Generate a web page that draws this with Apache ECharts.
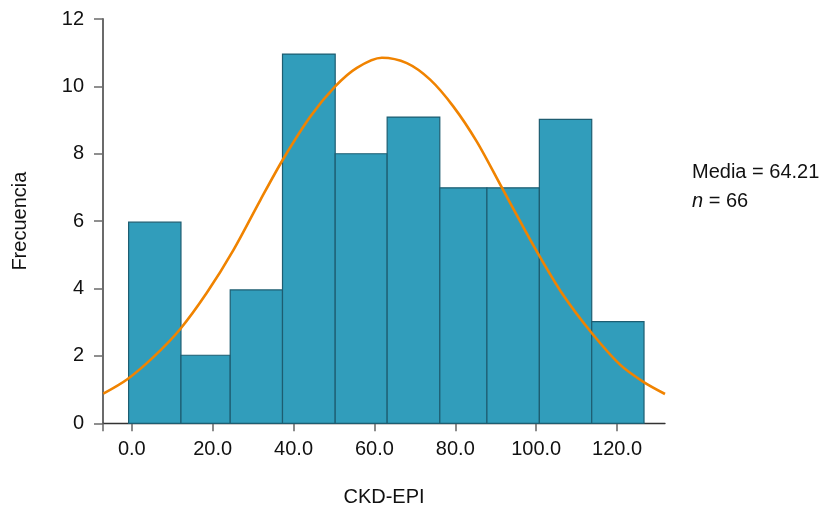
<!DOCTYPE html>
<html>
<head>
<meta charset="utf-8">
<script src="https://cdn.jsdelivr.net/npm/echarts@6/dist/echarts.min.js"></script>
<style>
html,body{margin:0;padding:0;background:#fff;}
#chart{width:824px;height:512px;}
</style>
</head>
<body>
<div id="chart"></div>
<script>
// Histogram bins (CKD-EPI) and frequencies
const binEdges = [-0.79, 12.16, 24.34, 37.27, 50.30, 63.15, 76.17, 87.82, 100.79, 113.74, 126.67];
const counts = [5.97, 2.02, 3.96, 10.96, 8.0, 9.09, 6.99, 6.99, 9.02, 3.02];
// Fitted normal curve
const curveX = [-7.04, -1.19, 5.39, 11.99, 18.59, 25.16, 31.76, 37.52, 44.12, 50.30, 55.66, 61.84, 68.02, 73.78, 79.54, 85.32, 91.50, 96.02, 100.79, 106.72, 113.74, 120.74, 126.50, 131.86];
const curveY = [0.88, 1.30, 1.97, 2.80, 3.88, 5.15, 6.62, 7.86, 9.10, 10.00, 10.55, 10.85, 10.69, 10.20, 9.40, 8.36, 7.00, 6.00, 4.97, 3.80, 2.68, 1.74, 1.23, 0.87];
const xTickLabels = [0, 20, 40, 60, 80, 100, 120];
const yTicks = [0, 2, 4, 6, 8, 10, 12];
const xAxisTitle = 'CKD-EPI';
const yAxisTitle = 'Frecuencia';
const statMean = 'Media = 64.21';
const statN = '66';

const FONT = 'Liberation Sans, Arial, Helvetica, sans-serif';
const xMin = -7.12, xMax = 131.86;

const barData = counts.map((c, i) => [binEdges[i], binEdges[i + 1], c]);
const lineData = curveX.map((x, i) => [x, curveY[i]]);

const chart = echarts.init(document.getElementById('chart'), null, {renderer: 'canvas'});
chart.setOption({
  animation: false,
  backgroundColor: '#ffffff',
  grid: {left: 103, right: 159, top: 19, bottom: 88.7, containLabel: false, outerBoundsMode: 'none'},
  xAxis: {
    type: 'value', min: xMin, max: xMax,
    splitLine: {show: false},
    axisLine: {show: true, onZero: false, lineStyle: {color: '#333333', width: 1.3}},
    axisTick: {show: true, length: 8, customValues: [xMin].concat(xTickLabels), lineStyle: {color: '#666666', width: 1.5}},
    axisLabel: {customValues: xTickLabels, formatter: v => v.toFixed(1), fontSize: 20, color: '#111111', fontFamily: FONT, margin: 16},
    name: xAxisTitle, nameLocation: 'middle', nameGap: 64,
    nameTextStyle: {fontSize: 20, color: '#111111', fontFamily: FONT}
  },
  yAxis: {
    type: 'value', min: 0, max: 12, interval: 2,
    splitLine: {show: false},
    axisLine: {show: true, onZero: false, lineStyle: {color: '#6b6b6b', width: 2}},
    axisTick: {show: true, length: 9, lineStyle: {color: '#6b6b6b', width: 1.5}},
    axisLabel: {fontSize: 20, color: '#111111', fontFamily: FONT, margin: 19},
    name: yAxisTitle, nameLocation: 'middle', nameGap: 73,
    nameTextStyle: {fontSize: 20, color: '#111111', fontFamily: FONT}
  },
  series: [
    {
      type: 'custom',
      data: barData,
      encode: {x: [0, 1], y: 2},
      renderItem: function (params, api) {
        const p0 = api.coord([api.value(0), api.value(2)]);
        const p1 = api.coord([api.value(1), 0]);
        return {
          type: 'rect',
          shape: {x: p0[0], y: p0[1], width: p1[0] - p0[0], height: p1[1] - p0[1]},
          style: {fill: '#319dbb', stroke: '#1d5d71', lineWidth: 1.2}
        };
      },
      z: 2
    },
    {
      type: 'line',
      data: lineData,
      smooth: 0.3,
      showSymbol: false,
      symbol: 'none',
      lineStyle: {color: '#f08300', width: 2.6},
      z: 3
    }
  ],
  graphic: [
    {
      type: 'text', left: 692, top: 162,
      style: {text: statMean, fontSize: 20, fontFamily: FONT, fill: '#111111'}
    },
    {
      type: 'text', left: 692, top: 191,
      style: {
        text: '{i|n} = ' + statN,
        rich: {i: {fontStyle: 'italic', fontSize: 20, fontFamily: FONT, fill: '#111111'}},
        fontSize: 20, fontFamily: FONT, fill: '#111111'
      }
    }
  ]
});
</script>
</body>
</html>
